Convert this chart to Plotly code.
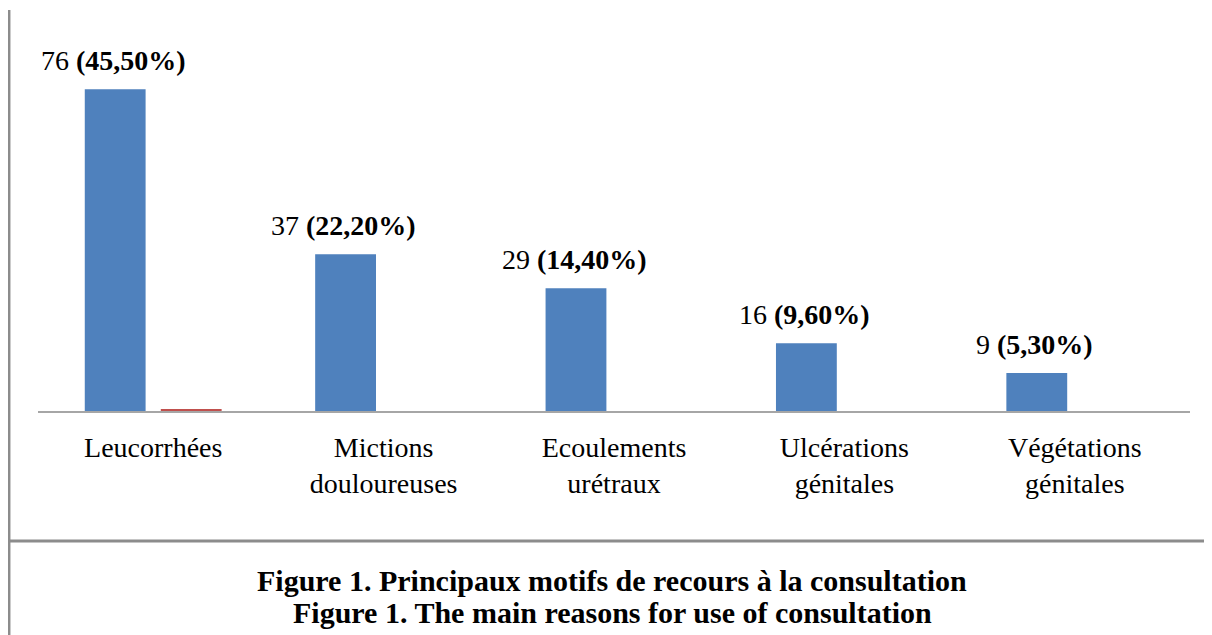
import plotly.graph_objects as go

categories = ["Leucorrhées", "Mictions<br>douloureuses", "Ecoulements<br>urétraux",
              "Ulcérations<br>génitales", "Végétations<br>génitales"]
counts = [76, 37, 29, 16, 9]
percents = ["45,50%", "22,20%", "14,40%", "9,60%", "5,30%"]
second_series = [0.5, 0, 0, 0, 0]

caption_fr = "Figure 1. Principaux motifs de recours à la consultation"
caption_en = "Figure 1. The main reasons for use of consultation"

FONT = "Liberation Serif, Times New Roman, serif"
OFF = 8  # page body margin
W, H = 1212 - OFF, 635 - OFF
ML, MR, MT, MB = 30, 22, 22, 224

fig = go.Figure()
fig.add_trace(go.Bar(x=categories, y=counts, marker_color="#4f81bd",
                     marker_line_width=0, name="Effectif"))
fig.add_trace(go.Bar(x=categories, y=second_series, marker_color="#c0504d",
                     marker_line_width=0, name="Série 2"))

for c, v, p in zip(categories, counts, percents):
    fig.add_annotation(x=c, y=v, xref="x", yref="y", text=f"{v} <b>({p})</b>",
                       showarrow=False, yanchor="bottom", xshift=-40, yshift=11,
                       font=dict(family=FONT, size=28, color="black"))

pw = W - ML - MR
ph = H - MT - MB
def px_x(px):
    return (px - OFF - ML) / pw
def px_y(py):
    return (H - MB - (py - OFF)) / ph

fig.add_shape(type="line", xref="paper", yref="paper",
              x0=px_x(9.2), x1=px_x(9.2), y0=px_y(10), y1=px_y(650),
              line=dict(color="#8c8c8c", width=2.5))
fig.add_shape(type="line", xref="paper", yref="paper",
              x0=px_x(9), x1=px_x(1230), y0=px_y(541), y1=px_y(541),
              line=dict(color="#8c8c8c", width=3))

fig.add_annotation(x=px_x(612), y=px_y(580), xref="paper", yref="paper",
                   xanchor="center", yanchor="middle",
                   text=f"<b>{caption_fr}</b>", showarrow=False,
                   font=dict(family=FONT, size=30, color="black"))
fig.add_annotation(x=px_x(612), y=px_y(612), xref="paper", yref="paper",
                   xanchor="center", yanchor="middle",
                   text=f"<b>{caption_en}</b>", showarrow=False,
                   font=dict(family=FONT, size=30, color="black"))

fig.update_layout(
    width=W, height=H,
    margin=dict(l=ML, r=MR, t=MT, b=MB, autoexpand=False),
    paper_bgcolor="white", plot_bgcolor="white",
    barmode="group", bargap=0.34, bargroupgap=0.2,
    showlegend=False,
    font=dict(family=FONT, color="black"),
    xaxis=dict(showline=True, linecolor="#a6a6a6", linewidth=2, ticks="",
               showgrid=False, zeroline=False, ticklabelstandoff=10,
               tickfont=dict(family=FONT, size=28, color="black")),
    yaxis=dict(range=[0, 90], visible=False, showgrid=False, zeroline=False),
)

fig.write_html("out.html")
